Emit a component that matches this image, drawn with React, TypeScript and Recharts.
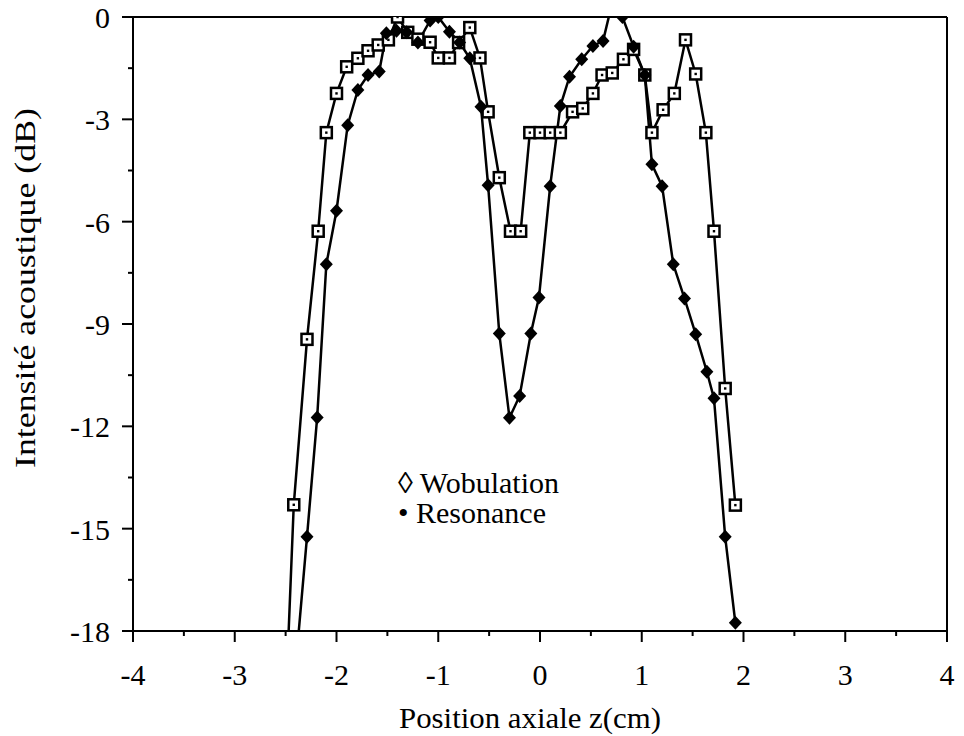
import { LineChart, Line, XAxis, YAxis, ReferenceLine } from "recharts";

// Wobulation (carrés)
const wobX = [
  -2.5, -2.42, -2.29, -2.18, -2.1, -2.0, -1.9, -1.79, -1.69, -1.59, -1.49, -1.4,
  -1.3, -1.2, -1.08, -1.0, -0.89, -0.8, -0.69, -0.59, -0.51, -0.4, -0.29, -0.19,
  -0.1, 0.0, 0.1, 0.2, 0.32, 0.42, 0.52, 0.61, 0.71, 0.82, 0.92, 1.03, 1.1, 1.21,
  1.32, 1.43, 1.53, 1.63, 1.71, 1.82, 1.92,
];
const wobY = [
  -20.2, -14.3, -9.45, -6.28, -3.39, -2.24, -1.46, -1.21, -0.99, -0.82, -0.67, 0,
  -0.45, -0.65, -0.74, -1.2, -1.2, -0.75, -0.31, -1.2, -2.78, -4.71, -6.28, -6.28,
  -3.39, -3.39, -3.39, -3.39, -2.78, -2.68, -2.24, -1.7, -1.64, -1.24, -0.95, -1.7,
  -3.39, -2.72, -2.24, -0.67, -1.67, -3.39, -6.28, -10.89, -14.31,
];

// Resonance (losanges pleins)
const resX = [
  -2.4, -2.29, -2.19, -2.1, -2.0, -1.89, -1.79, -1.69, -1.58, -1.51, -1.41, -1.31,
  -1.2, -1.08, -1.0, -0.89, -0.79, -0.69, -0.58, -0.51, -0.4, -0.3, -0.2, -0.09,
  -0.01, 0.1, 0.2, 0.29, 0.41, 0.52, 0.62, 0.7, 0.81, 0.92, 1.03, 1.1, 1.2, 1.31,
  1.42, 1.53, 1.64, 1.71, 1.82, 1.92,
];
const resY = [
  -19.0, -15.24, -11.74, -7.25, -5.68, -3.17, -2.14, -1.7, -1.6, -0.48, -0.4, -0.45,
  -0.75, -0.1, 0, -0.43, -0.75, -1.21, -2.63, -4.93, -9.28, -11.75, -11.11, -9.28,
  -8.22, -4.96, -2.61, -1.75, -1.24, -0.85, -0.7, 0.3, 0, -0.87, -1.7, -4.32, -4.96,
  -7.25, -8.25, -9.3, -10.4, -11.18, -15.24, -17.76,
];

const xTicks = [-4, -3.5, -3, -2.5, -2, -1.5, -1, -0.5, 0, 0.5, 1, 1.5, 2, 2.5, 3, 3.5, 4];
const yTicks = [0, -1.5, -3, -4.5, -6, -7.5, -9, -10.5, -12, -13.5, -15, -16.5, -18];

const wobData = wobX.map((x, i) => ({ x, y: wobY[i] }));
const resData = resX.map((x, i) => ({ x, y: resY[i] }));

const FONT = "Liberation Serif, DejaVu Serif, serif";

function SquareDot(props: any) {
  const { cx, cy } = props;
  if (cx == null || cy == null) return null;
  return (
    <g>
      <rect x={cx - 5.5} y={cy - 5.5} width={11} height={11} fill="#fff" stroke="#000" strokeWidth={2.5} />
      <rect x={cx - 1.2} y={cy - 1.2} width={2.4} height={2.4} fill="#000" />
    </g>
  );
}

function DiamondDot(props: any) {
  const { cx, cy } = props;
  if (cx == null || cy == null) return null;
  return (
    <path
      d={`M${cx},${cy - 7} L${cx + 6.5},${cy} L${cx},${cy + 7} L${cx - 6.5},${cy} Z`}
      fill="#000"
    />
  );
}

function XTick(props: any) {
  const { x, y, payload } = props;
  const v = payload.value;
  const major = Number.isInteger(v);
  return (
    <g>
      <line x1={x} x2={x} y1={y} y2={y + (major ? 11 : 5)} stroke="#000" strokeWidth={2} />
      {major && (
        <text x={x} y={y + 54} textAnchor="middle" fontSize={30} style={{ fontFamily: FONT }} fill="#000">
          {String(v)}
        </text>
      )}
    </g>
  );
}

function YTick(props: any) {
  const { x, y, payload } = props;
  const v = payload.value;
  const major = v % 3 === 0;
  return (
    <g>
      <line x1={x - (major ? 11 : 5)} x2={x} y1={y} y2={y} stroke="#000" strokeWidth={2} />
      {major && (
        <text x={x - 23} y={y + 11} textAnchor="end" fontSize={30} style={{ fontFamily: FONT }} fill="#000">
          {String(v)}
        </text>
      )}
    </g>
  );
}

const XTitle = () => (
  <text
    x={530}
    y={728}
    textAnchor="middle"
    fontSize={30}
    textLength={262}
    lengthAdjust="spacingAndGlyphs"
    style={{ fontFamily: FONT }}
    fill="#000"
  >
    Position axiale z(cm)
  </text>
);

const YTitle = () => (
  <text
    x={35}
    y={288}
    transform="rotate(-90 35 288)"
    textAnchor="middle"
    fontSize={29}
    textLength={360}
    lengthAdjust="spacingAndGlyphs"
    style={{ fontFamily: FONT }}
    fill="#000"
  >
    Intensité acoustique (dB)
  </text>
);

export default function App() {
  return (
    <div style={{ position: "relative", width: 964, height: 736, margin: "-8px 0 0 -8px" }}>
      <LineChart width={964} height={736} margin={{ top: 17, right: 17, left: 0, bottom: 0 }}>
        <XAxis
          dataKey="x"
          type="number"
          domain={[-4, 4]}
          ticks={xTicks}
          interval={0}
          allowDataOverflow
          tickSize={0}
          tickMargin={0}
          tickLine={false}
          tick={<XTick />}
          axisLine={{ stroke: "#000", strokeWidth: 2 }}
          height={105}
          label={<XTitle />}
        />
        <YAxis
          type="number"
          domain={[-18, 0]}
          ticks={yTicks}
          interval={0}
          allowDataOverflow
          tickSize={0}
          tickMargin={0}
          tickLine={false}
          tick={<YTick />}
          axisLine={{ stroke: "#000", strokeWidth: 2 }}
          width={133}
          label={<YTitle />}
        />
        <ReferenceLine y={0} stroke="#000" strokeWidth={2} />
        <ReferenceLine x={4} stroke="#000" strokeWidth={2} />
        <Line
          data={wobData}
          dataKey="y"
          type="linear"
          stroke="#000"
          strokeWidth={2.5}
          dot={SquareDot}
          activeDot={false}
          isAnimationActive={false}
        />
        <Line
          data={resData}
          dataKey="y"
          type="linear"
          stroke="#000"
          strokeWidth={2.5}
          dot={DiamondDot}
          activeDot={false}
          isAnimationActive={false}
        />
      </LineChart>
      <div
        style={{
          position: "absolute",
          left: 398,
          top: 468,
          fontFamily: FONT,
          fontSize: 30,
          lineHeight: "30px",
          color: "#000",
          whiteSpace: "pre",
        }}
      >
        <div>◊ Wobulation</div>
        <div>• Resonance</div>
      </div>
    </div>
  );
}
